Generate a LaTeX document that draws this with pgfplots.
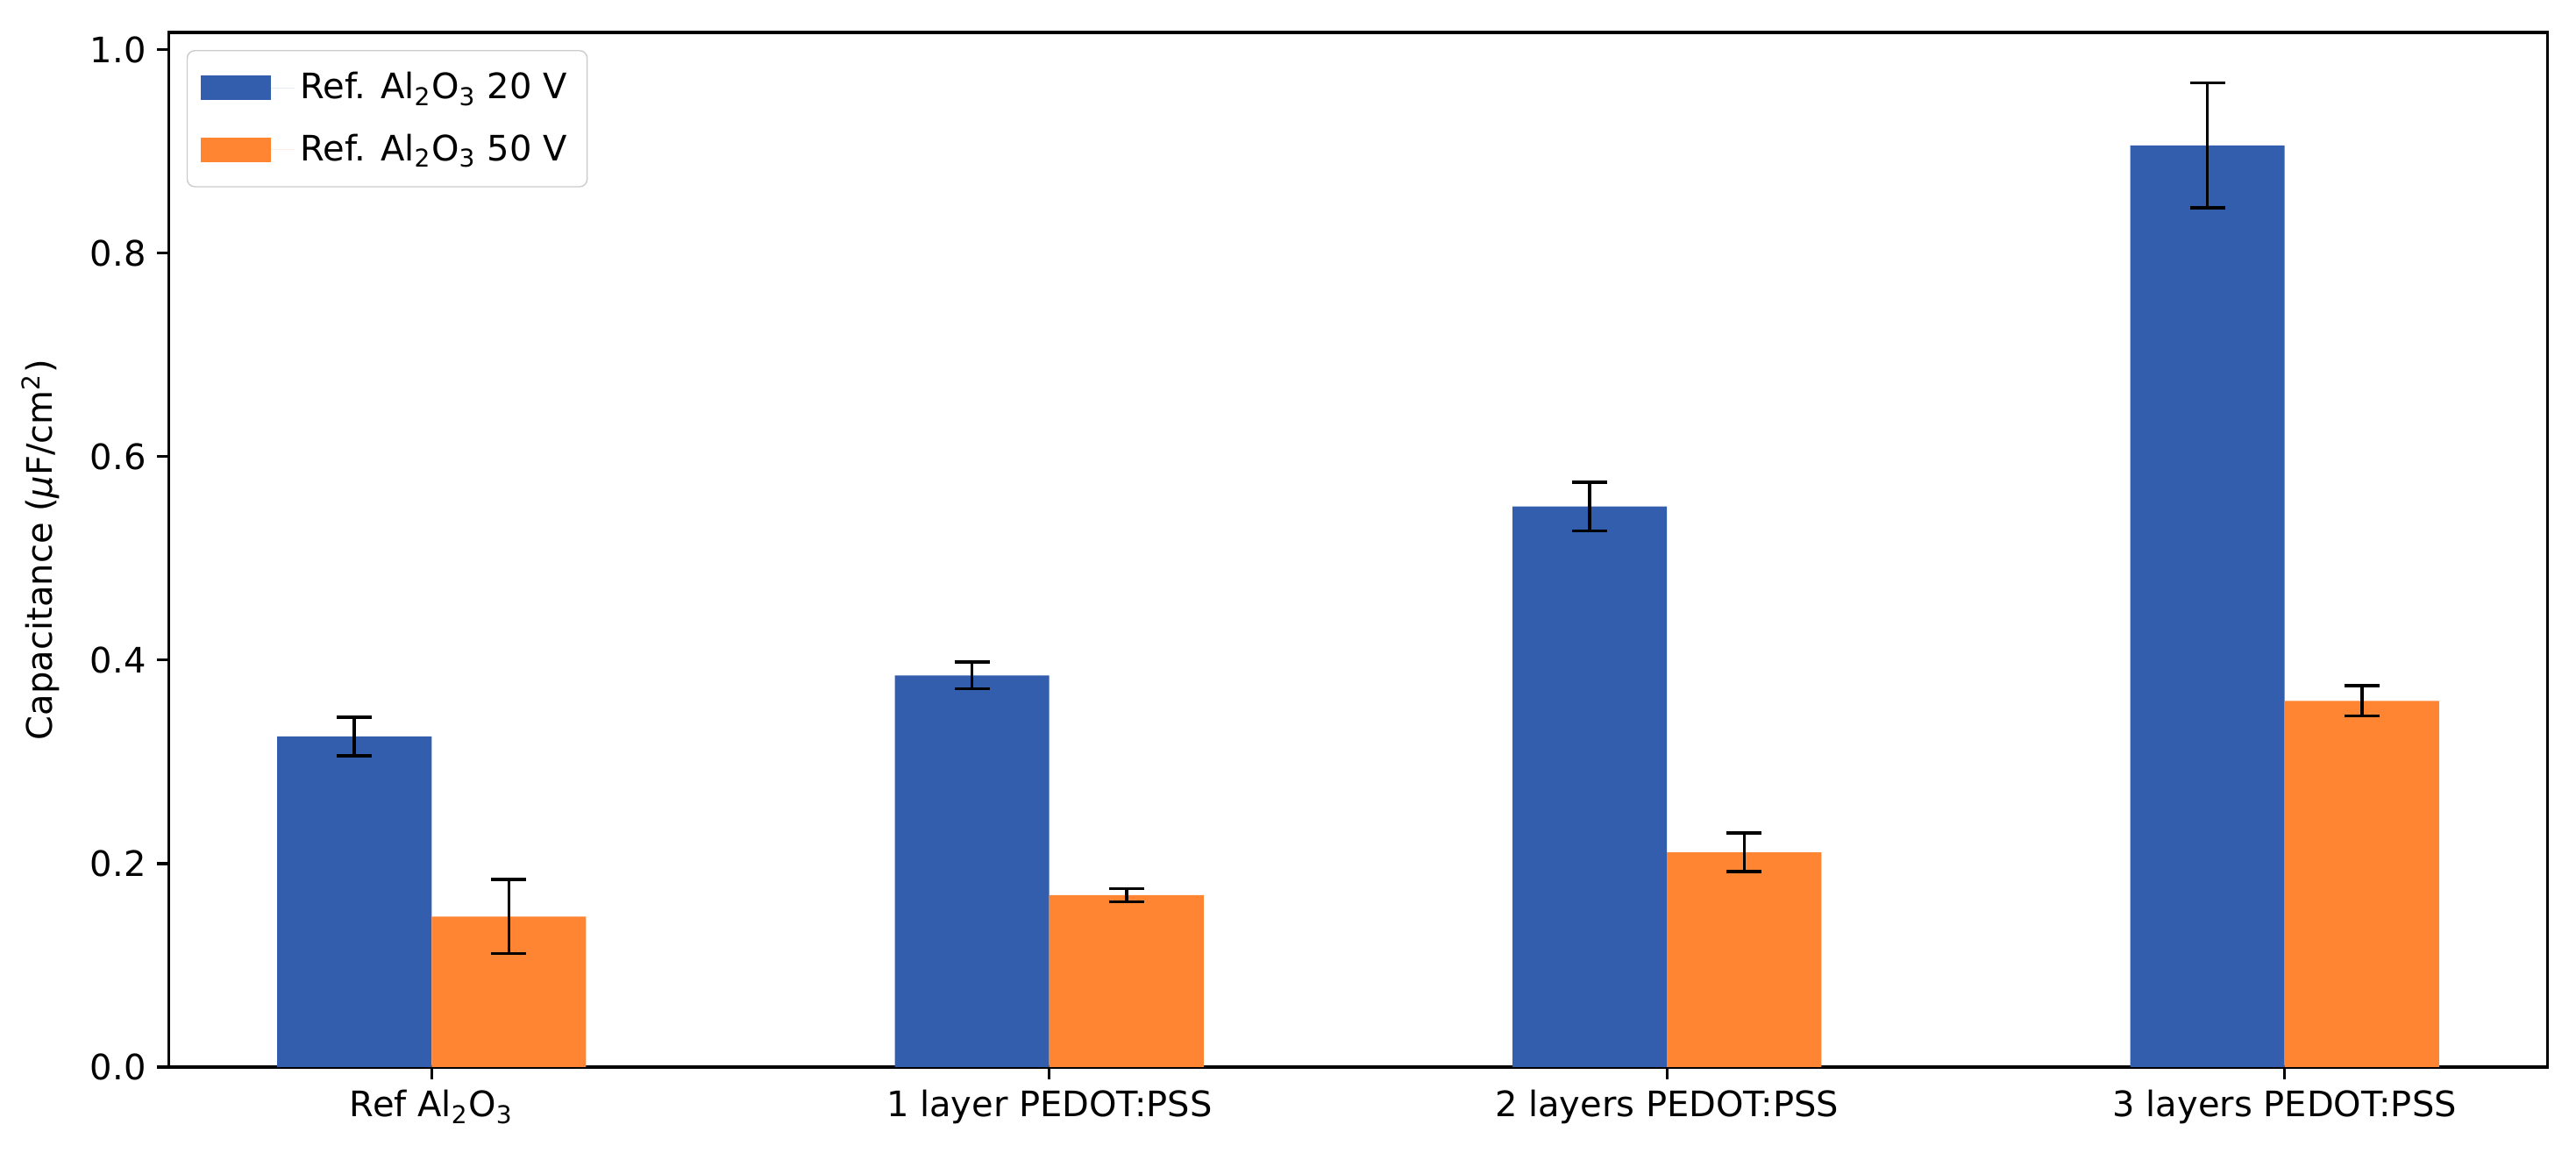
\documentclass[border=0pt]{standalone}
\usepackage{pgfplots}
\pgfplotsset{compat=1.18}
\usepackage{pgfplotstable}
\usepackage{fontspec}
\setmainfont{DejaVu Sans}
\usetikzlibrary{calc}
\definecolor{barblue}{RGB}{51,94,173}
\definecolor{barorange}{RGB}{255,133,51}
\pgfplotstableread{
x y err
0 0.325 0.019
1 0.385 0.013
2 0.551 0.024
3 0.906 0.0615
}\twenty
\pgfplotstableread{
x y err
0 0.148 0.0365
1 0.169 0.0065
2 0.211 0.019
3 0.360 0.015
}\fifty
\begin{document}
\begin{tikzpicture}[font=\fontsize{11.43}{13.7}\selectfont]
\begin{axis}[
  scale only axis,
  width=774.9pt, height=337.1pt,
  xmin=-0.425, xmax=3.425,
  ymin=0, ymax=1.017,
  ybar, bar width=0.25,
  xtick={0,1,2,3},
  xticklabels={Ref Al\textsubscript{2}O\textsubscript{3}, 1 layer PEDOT:PSS, 2 layers PEDOT:PSS, 3 layers PEDOT:PSS},
  ytick={0,0.2,0.4,0.6,0.8,1.0},
  yticklabel style={/pgf/number format/.cd, fixed, fixed zerofill, precision=1, assume math mode=true},
  tick label style={font=\fontsize{11.43}{13.7}\selectfont},
  xtick pos=bottom, ytick pos=left,
  tick align=outside,
  major tick length=4pt,
  every tick/.style={black, line width=0.9pt},
  axis line style={line width=0.9pt},
  ylabel={Capacitance (\textit{μ}F/cm\textsuperscript{2})},
  ylabel style={at={(axis description cs:-0.0542,0.5)}, anchor=center, font=\fontsize{11.43}{13.7}\selectfont},
  legend style={at={(0,1)}, xshift=5.7pt, yshift=-5.7pt, anchor=north west,
    draw=black!20, rounded corners=2.5pt, fill=white,
    inner xsep=4.5pt, inner ysep=5pt, row sep=6pt,
    font=\fontsize{11.43}{13.7}\selectfont},
  legend cell align=left,
  legend image code/.code={\fill[#1, sharp corners] (0pt,-4pt) rectangle (22.9pt,4pt); \path (0pt,0pt) -- (30.4pt,0pt);},
  error bars/error bar style={black, line width=1pt},
  error bars/error mark options={black, line width=1pt, mark size=5.7pt, rotate=90},
]
\addplot[fill=barblue, draw=none, bar shift=-0.125,
  error bars/.cd, y dir=both, y explicit]
  table[x=x, y=y, y error=err] {\twenty};
\addlegendentry{Ref. Al\textsubscript{2}O\textsubscript{3} 20 V}
\addplot[fill=barorange, draw=none, bar shift=0.125,
  error bars/.cd, y dir=both, y explicit]
  table[x=x, y=y, y error=err] {\fifty};
\addlegendentry{Ref. Al\textsubscript{2}O\textsubscript{3} 50 V}
\end{axis}
\path[use as bounding box] ($(current axis.south west)+(-55.1pt,-28pt)$) rectangle ($(current axis.north east)+(9.4pt,10.6pt)$);
\end{tikzpicture}
\end{document}
